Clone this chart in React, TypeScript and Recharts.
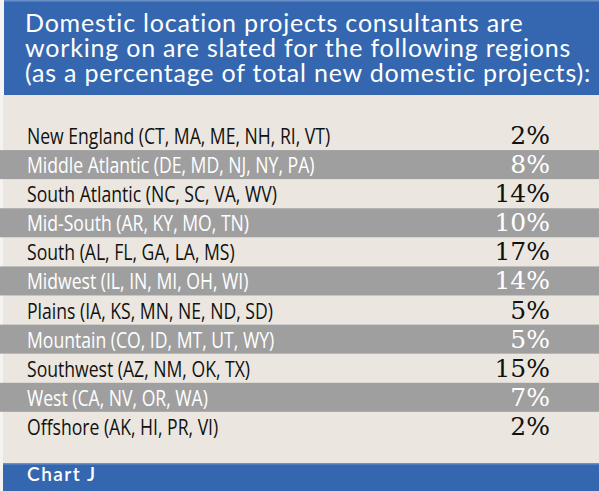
import React from "react";
import { BarChart, Bar, XAxis, YAxis, LabelList } from "recharts";

const regions = [
  "New England (CT, MA, ME, NH, RI, VT)",
  "Middle Atlantic (DE, MD, NJ, NY, PA)",
  "South Atlantic (NC, SC, VA, WV)",
  "Mid-South (AR, KY, MO, TN)",
  "South (AL, FL, GA, LA, MS)",
  "Midwest (IL, IN, MI, OH, WI)",
  "Plains (IA, KS, MN, NE, ND, SD)",
  "Mountain (CO, ID, MT, UT, WY)",
  "Southwest (AZ, NM, OK, TX)",
  "West (CA, NV, OR, WA)",
  "Offshore (AK, HI, PR, VI)",
];
const shares = [2, 8, 14, 10, 17, 14, 5, 5, 15, 7, 2];
const titleLines = [
  "Domestic location projects consultants are",
  "working on are slated for the following regions",
  "(as a percentage of total new domestic projects):",
];
const footerText = "Chart J";

const data = regions.map((name, i) => ({ name, value: shares[i] }));

const W = 599;
const H = 491;
const BLUE = "#3567b0";
const BLUE_LIGHT = "#6d8fc8";
const BEIGE = "#ebe7e0";
const GRAY = "#9f9f9f";
const LABEL_FONT = "'Open Sans', sans-serif";
const LABEL_SQUEEZE = 0.8;
const VALUE_FONT = "'DejaVu Serif', serif";
const TITLE_FONT = "Lato, 'Open Sans', sans-serif";

const RowBackground = (props: any) => {
  const { x, y, width, height, index } = props;
  return (
    <rect
      x={x}
      y={y}
      width={width}
      height={height}
      fill={index % 2 === 1 ? GRAY : "none"}
    />
  );
};

const NameLabel = (props: any) => {
  const { y, height, value, index } = props;
  return (
    <g transform={`translate(27, ${y + height / 2}) scale(${LABEL_SQUEEZE}, 1)`}>
      <text
        x={0}
        y={0}
        dy={8.5}
        fontFamily={LABEL_FONT}
        fontSize={22}
        fill={index % 2 === 1 ? "#ffffff" : "#111111"}
        textAnchor="start"
      >
        {value}
      </text>
    </g>
  );
};

const ValueLabel = (props: any) => {
  const { y, height, value, index } = props;
  return (
    <text
      x={550}
      y={y + height / 2}
      dy={8.5}
      fontFamily={VALUE_FONT}
      fontSize={25}
      fill={index % 2 === 1 ? "#ffffff" : "#111111"}
      textAnchor="end"
    >
      {value}%
    </text>
  );
};

export default function App() {
  return (
    <div
      style={{
        position: "absolute",
        left: 0,
        top: 0,
        width: W,
        height: H,
        background: "#f4f3f1",
        overflow: "hidden",
      }}
    >
      <svg width={W} height={H} style={{ position: "absolute", left: 0, top: 0 }}>
        <rect x={3} y={95} width={W - 3} height={368} fill={BEIGE} />
        <rect x={4} y={0} width={W - 4} height={95} fill={BLUE} />
        <rect x={4} y={0} width={W - 4} height={1.5} fill={BLUE_LIGHT} />
        <rect x={3} y={463} width={W - 3} height={28} fill={BLUE} />
        <rect x={3} y={463} width={W - 3} height={1.5} fill={BLUE_LIGHT} />
        {titleLines.map((t, i) => (
          <text
            key={i}
            x={25}
            y={32 + i * 25}
            fontFamily={TITLE_FONT}
            fontSize={25}
            letterSpacing={0.8}
            fill="#ffffff"
          >
            {t}
          </text>
        ))}
        <text
          x={27}
          y={481}
          fontFamily={TITLE_FONT}
          fontSize={19}
          fontWeight={600}
          letterSpacing={1.5}
          fill="#ffffff"
        >
          {footerText}
        </text>
      </svg>
      <div style={{ position: "absolute", left: 0, top: 0 }}>
        <BarChart
          width={W}
          height={H}
          data={data}
          layout="vertical"
          margin={{ top: 121, right: 0, bottom: 50, left: 0 }}
          barCategoryGap={0}
        >
          <XAxis type="number" hide domain={[0, 20]} />
          <YAxis type="category" dataKey="name" hide />
          <Bar
            dataKey="value"
            fill="transparent"
            isAnimationActive={false}
            background={RowBackground}
          >
            <LabelList dataKey="name" content={<NameLabel />} />
            <LabelList dataKey="value" content={<ValueLabel />} />
          </Bar>
        </BarChart>
      </div>
    </div>
  );
}
